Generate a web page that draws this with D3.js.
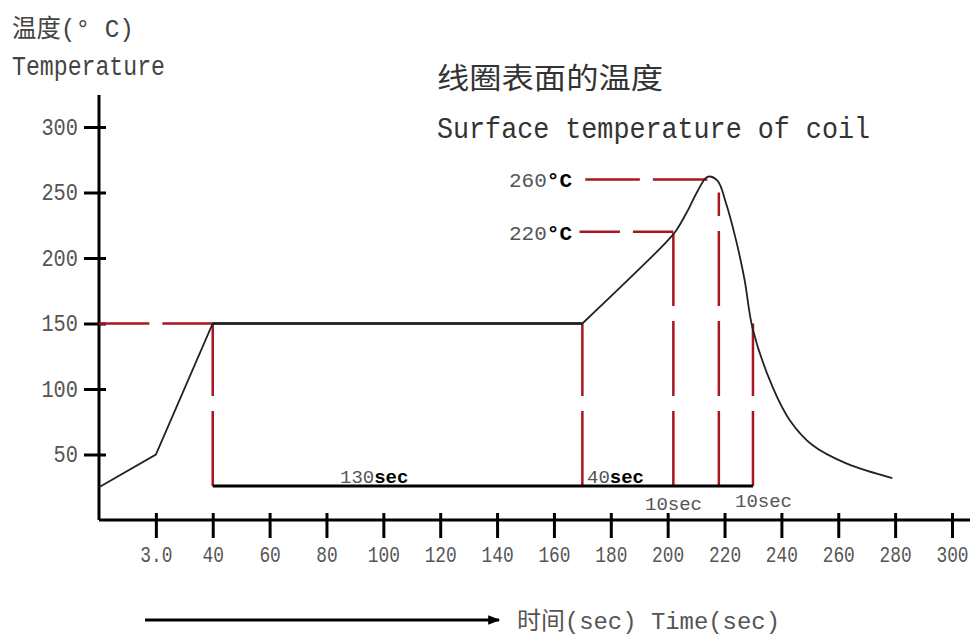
<!DOCTYPE html>
<html>
<head>
<meta charset="utf-8">
<script src="https://cdn.jsdelivr.net/npm/d3@7"></script>
<style>
  body { margin: 0; background: #fff; }
  text { font-family: "Liberation Mono", "Noto Sans CJK SC", monospace; }
</style>
</head>
<body>
<svg id="chart" width="979" height="637"></svg>
<script>
// axis ticks
var timeTicks = [20, 40, 60, 80, 100, 120, 140, 160, 180, 200, 220, 240, 260, 280, 300];
var timeLabels = ["3.0", "40", "60", "80", "100", "120", "140", "160", "180", "200", "220", "240", "260", "280", "300"];
var tempTicks = [50, 100, 150, 200, 250, 300];

// preheat + soak part of the profile (straight segments)
var soakTime = [0, 20, 40, 170];
var soakTemp = [25, 50, 150, 150];

// reflow peak and cooling part (smooth)
var peakTime = [170, 199, 203, 207, 210.5, 214, 217.5, 220.5, 224, 227, 230, 237, 243, 251, 263, 279];
var peakTemp = [150, 211, 221, 236, 251, 262, 259, 242, 214, 184, 145, 101, 76, 57, 43, 32];

// red dashed guides
var hGuideTemp = [150, 220, 260];
var hGuideFrom = [0, 169, 171];
var hGuideTo = [40, 202, 214];
var vGuideTime = [40, 170, 202, 218, 230];
var vGuideTop = [150, 150, 219, 250, 150];

var baseTemp = 26;       // black duration bar
var baseFrom = 40, baseTo = 230;

var svg = d3.select("#chart"),
    width = +svg.attr("width"),
    height = +svg.attr("height");

var x = d3.scaleLinear().domain([0, 300]).range([99, 952]);
var y = d3.scaleLinear().domain([0, 300]).range([520, 127]);

var red = "#a8161f";
var grey = "#555";

// x axis ticks
var xAxis = svg.append("g")
  .attr("transform", "translate(0,513)")
  .call(d3.axisBottom(x)
    .tickValues(timeTicks)
    .tickSize(25)
    .tickPadding(8)
    .tickFormat(function(d, i) { return timeLabels[i]; }));
xAxis.select(".domain").remove();
xAxis.selectAll("line").attr("stroke", "#000").attr("stroke-width", 3);
xAxis.selectAll("text")
  .attr("fill", grey)
  .style("font-size", "22px")
  .attr("textLength", function() { return this.textContent.length * 10.7; })
  .attr("lengthAdjust", "spacingAndGlyphs");

// y axis ticks
var yAxis = svg.append("g")
  .attr("transform", "translate(106,0)")
  .call(d3.axisLeft(y)
    .tickValues(tempTicks)
    .tickSize(22)
    .tickPadding(6));
yAxis.select(".domain").remove();
yAxis.selectAll("line").attr("stroke", "#000").attr("stroke-width", 3);
yAxis.selectAll("text")
  .attr("fill", grey)
  .style("font-size", "23px")
  .attr("textLength", function() { return this.textContent.length * 12.2; })
  .attr("lengthAdjust", "spacingAndGlyphs");

// axis lines
svg.append("line")
  .attr("x1", x(0)).attr("x2", 970)
  .attr("y1", y(0)).attr("y2", y(0))
  .attr("stroke", "#000").attr("stroke-width", 3);
svg.append("line")
  .attr("x1", x(0)).attr("x2", x(0))
  .attr("y1", 95).attr("y2", y(0))
  .attr("stroke", "#000").attr("stroke-width", 3);

// horizontal red guides
hGuideTemp.forEach(function(t, i) {
  var len = x(hGuideTo[i]) - x(hGuideFrom[i]);
  var gap = 13;
  svg.append("line")
    .attr("x1", x(hGuideFrom[i])).attr("x2", x(hGuideTo[i]))
    .attr("y1", y(t)).attr("y2", y(t))
    .attr("stroke", red).attr("stroke-width", 2.5)
    .attr("stroke-dasharray", ((len - gap) / 2) + "," + gap);
});

// vertical red guides, drawn from the bar upward
vGuideTime.forEach(function(t, i) {
  svg.append("line")
    .attr("x1", x(t)).attr("x2", x(t))
    .attr("y1", y(baseTemp)).attr("y2", y(vGuideTop[i]))
    .attr("stroke", red).attr("stroke-width", 2.5)
    .attr("stroke-dasharray", "75,15");
});

// black duration bar
svg.append("line")
  .attr("x1", x(baseFrom)).attr("x2", x(baseTo))
  .attr("y1", y(baseTemp)).attr("y2", y(baseTemp))
  .attr("stroke", "#000").attr("stroke-width", 3);

// soak plateau (thicker black)
svg.append("line")
  .attr("x1", x(40)).attr("x2", x(170))
  .attr("y1", y(150)).attr("y2", y(150))
  .attr("stroke", "#000").attr("stroke-width", 2.5);

// profile curve
var lineLin = d3.line()
  .x(function(d) { return x(d[0]); })
  .y(function(d) { return y(d[1]); });
svg.append("path")
  .attr("d", lineLin(d3.zip(soakTime, soakTemp)))
  .attr("fill", "none").attr("stroke", "#222").attr("stroke-width", 1.8);

var lineSmooth = d3.line()
  .x(function(d) { return x(d[0]); })
  .y(function(d) { return y(d[1]); })
  .curve(d3.curveCatmullRom.alpha(0.5));
svg.append("path")
  .attr("d", lineSmooth(d3.zip(peakTime, peakTemp)))
  .attr("fill", "none").attr("stroke", "#222").attr("stroke-width", 1.8);

// temperature labels on the guides
function degLabel(val, ypos) {
  var t = svg.append("text")
    .attr("x", 572).attr("y", ypos)
    .attr("text-anchor", "end")
    .style("font-size", "21px");
  t.append("tspan").attr("fill", grey).text(val);
  t.append("tspan").attr("fill", "#000").attr("font-weight", "bold").text("°C");
}
degLabel("260", y(260) + 8);
degLabel("220", y(220) + 8);

// duration labels
function secLabel(num, xpos, ypos, dark) {
  var t = svg.append("text")
    .attr("x", xpos).attr("y", ypos)
    .style("font-size", "19px");
  t.append("tspan").attr("fill", grey).text(num);
  t.append("tspan")
    .attr("fill", dark ? "#000" : grey)
    .attr("font-weight", dark ? "bold" : "normal")
    .text("sec");
}
secLabel("130", 340, 483, true);
secLabel("40", 587, 483, true);
secLabel("10", 645, 510, false);
secLabel("10", 735, 507, false);

// titles
svg.append("text")
  .attr("x", 12).attr("y", 37)
  .attr("fill", "#444")
  .style("font-size", "25px")
  .attr("textLength", 122)
  .attr("lengthAdjust", "spacingAndGlyphs")
  .text("温度(° C)");
svg.append("text")
  .attr("x", 12).attr("y", 75)
  .attr("fill", "#444")
  .style("font-size", "27px")
  .attr("textLength", 153)
  .attr("lengthAdjust", "spacingAndGlyphs")
  .text("Temperature");

svg.append("text")
  .attr("x", 437).attr("y", 89)
  .attr("fill", "#333")
  .style("font-family", "'Noto Sans CJK SC'")
  .style("font-size", "29px")
  .attr("textLength", 226)
  .attr("lengthAdjust", "spacingAndGlyphs")
  .text("线圈表面的温度");
svg.append("text")
  .attr("x", 437).attr("y", 138)
  .attr("fill", "#333")
  .style("font-size", "30px")
  .attr("textLength", 433)
  .attr("lengthAdjust", "spacingAndGlyphs")
  .text("Surface temperature of coil");

// time arrow
svg.append("defs").append("marker")
  .attr("id", "arrow")
  .attr("viewBox", "0 0 10 10")
  .attr("refX", 9).attr("refY", 5)
  .attr("markerWidth", 5).attr("markerHeight", 4)
  .attr("markerUnits", "strokeWidth")
  .attr("orient", "auto")
  .append("path")
  .attr("d", "M0,1 L10,5 L0,9 Z")
  .attr("fill", "#000");
svg.append("line")
  .attr("x1", 145).attr("x2", 499)
  .attr("y1", 620).attr("y2", 620)
  .attr("stroke", "#000").attr("stroke-width", 3)
  .attr("marker-end", "url(#arrow)");

svg.append("text")
  .attr("x", 517).attr("y", 629)
  .attr("fill", "#555")
  .style("font-size", "24px")
  .attr("textLength", 263)
  .attr("lengthAdjust", "spacingAndGlyphs")
  .text("时间(sec) Time(sec)");
</script>
</body>
</html>
